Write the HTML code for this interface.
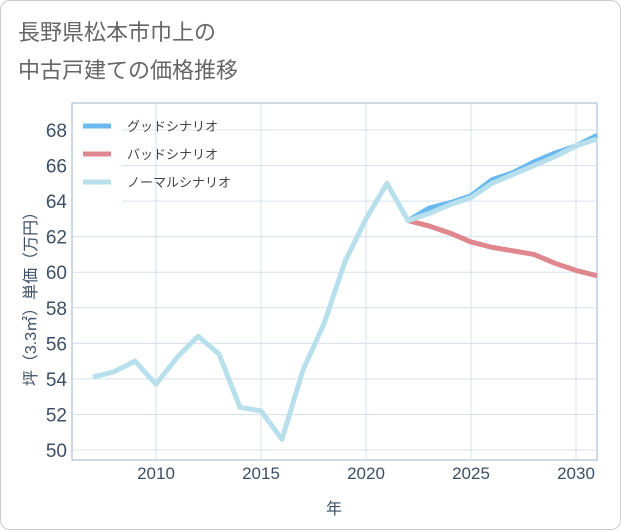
<!DOCTYPE html>
<html><head><meta charset="utf-8"><style>
body{margin:0;background:#fff;font-family:"Liberation Sans","Noto Sans CJK JP",sans-serif}
#wrap{position:relative;width:619px;height:528px;border:1px solid #ccc;border-radius:10px;overflow:hidden;background:#fff}
</style></head><body>
<div id="wrap">
<svg id="c" width="621" height="530" style="position:absolute;left:-1px;top:-1px">
<text x="18" y="40" font-size="22" fill="#666" font-family="Liberation Sans,Noto Sans CJK JP,sans-serif">長野県松本市巾上の</text>
<text x="18" y="78" font-size="22" fill="#666" font-family="Liberation Sans,Noto Sans CJK JP,sans-serif">中古戸建ての価格推移</text>
<g id="grid"></g><g id="series"></g><g id="axes"></g>
<text x="334" y="514" font-size="16" fill="#3d4f66" text-anchor="middle" font-family="Liberation Sans,Noto Sans CJK JP,sans-serif">年</text>
<text transform="translate(36,295) rotate(-90)" font-size="16" fill="#3d4f66" text-anchor="middle" font-family="Liberation Sans,Noto Sans CJK JP,sans-serif">坪（3.3㎡）単価（万円）</text>
<g id="legend"></g>
</svg>
</div>
<script>
const years=[2007,2008,2009,2010,2011,2012,2013,2014,2015,2016,2017,2018,2019,2020,2021,2022,2023,2024,2025,2026,2027,2028,2029,2030,2031];
const normalVals=[54.1,54.4,55.0,53.7,55.2,56.4,55.4,52.4,52.2,50.6,54.5,57.1,60.6,63.0,65.0,62.9,63.3,63.8,64.2,65.0,65.5,66.0,66.5,67.1,67.5];
const futureYears=[2022,2023,2024,2025,2026,2027,2028,2029,2030,2031];
const goodVals=[62.9,63.6,63.9,64.3,65.2,65.6,66.2,66.7,67.1,67.7];
const badVals=[62.9,62.6,62.2,61.7,61.4,61.2,61.0,60.5,60.1,59.8];
const xTicks=[2010,2015,2020,2025,2030];
const yTicks=[50,52,54,56,58,60,62,64,66,68];
const NS='http://www.w3.org/2000/svg';
const L=72,R=597,T=103,B=460;
const x=v=>156+(v-2010)*21;
const y=v=>450-(v-50)*17.78;
function mk(p,t,a){const e=document.createElementNS(NS,t);for(const k in a)e.setAttribute(k,a[k]);p.appendChild(e);return e;}
const g=document.getElementById('grid'),ax=document.getElementById('axes'),s=document.getElementById('series'),lg=document.getElementById('legend');
mk(g,'rect',{x:L,y:T,width:R-L,height:B-T,fill:'#fff',stroke:'#9fb3c8'});
xTicks.forEach(v=>{const l=mk(g,'line',{x1:x(v),x2:x(v),y1:T,y2:B,stroke:'#d5e1ec'});


const t=mk(ax,'text',{x:x(v),y:479,'font-size':17,fill:'#3d4f66','text-anchor':'middle'});t.textContent=v;

});
yTicks.forEach(v=>{const l=mk(g,'line',{x1:L,x2:R,y1:y(v),y2:y(v),stroke:'#d5e1ec'});


const t=mk(ax,'text',{x:67,y:y(v)+7,'font-size':19,fill:'#3d4f66','text-anchor':'end'});t.textContent=v;

});
function line(xs,vs,c,n){const p=mk(s,'polyline',{points:xs.map((v,i)=>x(v)+','+y(vs[i])).join(' '),fill:'none',stroke:c,'stroke-width':5,'stroke-linejoin':'round'});

}
line(futureYears,badVals,'#e0868e','bad-scenario-line');
line(futureYears,goodVals,'#6ab8f0','good-scenario-line');
line(years,normalVals,'#b8dfec','normal-scenario-line');
mk(lg,'rect',{x:74,y:110,width:48,height:92,fill:'#fff'});
[['グッドシナリオ','#6ab8f0','legend-good'],['バッドシナリオ','#e0868e','legend-bad'],['ノーマルシナリオ','#b8dfec','legend-normal']].forEach((d,i)=>{
const gg=mk(lg,'g',{});


const yy=126+i*28;
mk(gg,'line',{x1:83,x2:111,y1:yy,y2:yy,stroke:d[1],'stroke-width':5});
const t=mk(gg,'text',{x:127,y:yy+5,'font-size':13,fill:'#444'});t.textContent=d[0];});
</script>
</body></html>
